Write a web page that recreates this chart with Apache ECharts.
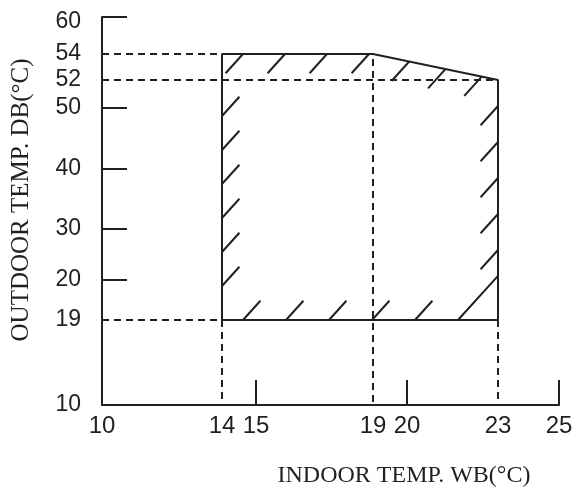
<!DOCTYPE html>
<html>
<head>
<meta charset="utf-8">
<script src="https://cdn.jsdelivr.net/npm/echarts@6/dist/echarts.min.js"></script>
<style>
  html, body { margin: 0; padding: 0; background: #fff; }
  #chart { width: 574px; height: 488px; }
</style>
</head>
<body>
<div id="chart"></div>
<script>
// printed tick values
const xTicks = [10, 14, 15, 19, 20, 23, 25]
const yTicks = [10, 19, 20, 30, 40, 50, 52, 54, 60]
// the scale is not linear: where each printed tick sits along its axis
const xScaleStops = [0, 120, 154, 271, 305, 396, 457]
const yScaleStops = [0, 85, 125, 176, 236, 297, 325, 351, 388]
// ticks drawn as solid marks
const xSolidTicks = [15, 20, 25]
const ySolidTicks = [20, 30, 40, 50, 60]
// operating range corners: indoor WB / outdoor DB
const rangeWB = [14, 14, 19, 23, 23]
const rangeDB = [19, 54, 54, 52, 19]
// corners that get dashed guides to both axes
const guideWB = [14, 19, 23]
const guideDB = [19, 54, 52]

const INK = '#231f20'
// hatch strokes per outline edge (px): first offset, gap, count, first one runs to the outline
const hatch = [
  { start: 34, gap: 34, count: 6 },
  { start: 21, gap: 42, count: 4 },
  { start: 37, gap: 37, count: 3 },
  { start: 26, gap: 36, count: 5 },
  { start: 40, gap: 43, count: 6, reach: true }
]

function mapScale(v, ticks, stops) {
  for (let i = 0; i < ticks.length - 1; i++) {
    if (v <= ticks[i + 1] || i === ticks.length - 2) {
      const t = (v - ticks[i]) / (ticks[i + 1] - ticks[i])
      return stops[i] + t * (stops[i + 1] - stops[i])
    }
  }
}
const toX = v => mapScale(v, xTicks, xScaleStops)
const toY = v => mapScale(v, yTicks, yScaleStops)

function labelOf(v, ticks, stops) {
  let best = 0
  stops.forEach((s, i) => { if (Math.abs(s - v) < Math.abs(stops[best] - v)) best = i })
  return String(ticks[best])
}

// distance along a ray until it meets the polygon outline
function rayToOutline(px, py, dx, dy, pts) {
  let best = Infinity
  for (let i = 0; i < pts.length; i++) {
    const a = pts[i], b = pts[(i + 1) % pts.length]
    const ex = b[0] - a[0], ey = b[1] - a[1]
    const den = dx * ey - dy * ex
    if (Math.abs(den) < 1e-9) continue
    const t = ((a[0] - px) * ey - (a[1] - py) * ex) / den
    const u = ((a[0] - px) * dy - (a[1] - py) * dx) / den
    if (t > 1 && u >= 0 && u <= 1) best = Math.min(best, t)
  }
  return best
}

const rangeLine = rangeWB.map((x, i) => [toX(x), toY(rangeDB[i])])
rangeLine.push(rangeLine[0])

const guideSeries = guideWB.map((wb, i) => ({
  type: 'line',
  silent: true,
  symbol: 'none',
  data: [[toX(xTicks[0]), toY(guideDB[i])], [toX(wb), toY(guideDB[i])], [toX(wb), toY(yTicks[0])]],
  lineStyle: { color: INK, width: 2, type: [7, 5] },
  z: 2
}))

const chart = echarts.init(document.getElementById('chart'))
chart.setOption({
  animation: false,
  grid: { left: 102, top: 17, width: 457, height: 388, outerBoundsMode: 'none' },
  xAxis: {
    type: 'value', min: 0, max: xScaleStops[xScaleStops.length - 1],
    axisLine: { show: true, lineStyle: { color: INK, width: 2 } },
    axisTick: { show: true, inside: true, length: 25, customValues: xSolidTicks.map(toX), lineStyle: { color: INK, width: 2 } },
    axisLabel: {
      customValues: xTicks.map(toX), margin: 9,
      formatter: v => labelOf(v, xTicks, xScaleStops),
      color: INK, fontSize: 24, fontFamily: 'Liberation Sans'
    },
    splitLine: { show: false }
  },
  yAxis: {
    type: 'value', min: 0, max: yScaleStops[yScaleStops.length - 1],
    axisLine: { show: true, lineStyle: { color: INK, width: 2 } },
    axisTick: { show: true, inside: true, length: 25, customValues: ySolidTicks.map(toY), lineStyle: { color: INK, width: 2 } },
    axisLabel: {
      customValues: yTicks.map(toY), margin: 21,
      formatter: v => {
        const s = labelOf(v, yTicks, yScaleStops)
        return s === String(yTicks[yTicks.length - 1]) ? '{top|' + s + '}' : s
      },
      rich: { top: { padding: [10, 0, 0, 0], fontSize: 23, color: INK, fontFamily: 'Liberation Sans' } },
      color: INK, fontSize: 23, fontFamily: 'Liberation Sans'
    },
    splitLine: { show: false }
  },
  graphic: [
    {
      type: 'text', x: 404, y: 476,
      style: { text: 'INDOOR TEMP. WB(°C)', fill: INK, font: '24px "Liberation Serif"', align: 'center', verticalAlign: 'middle' }
    },
    {
      type: 'text', x: 21, y: 200, rotation: Math.PI / 2,
      style: { text: 'OUTDOOR TEMP. DB(°C)', fill: INK, font: '25px "Liberation Serif"', align: 'center', verticalAlign: 'middle' }
    }
  ],
  series: [
    ...guideSeries,
    {
      type: 'line', silent: true, symbol: 'none', data: rangeLine,
      lineStyle: { color: INK, width: 2 }, z: 3
    },
    {
      // short hatch strokes along the inside of the range outline
      type: 'custom', coordinateSystem: 'cartesian2d', silent: true, clip: false,
      data: [[0, 0]], z: 3,
      renderItem: (params, api) => {
        const pts = rangeWB.map((x, i) => api.coord([toX(x), toY(rangeDB[i])]))
        const d = [0.67, -0.74], L = 26
        const children = []
        pts.forEach((a, i) => {
          const b = pts[(i + 1) % pts.length]
          const ex = b[0] - a[0], ey = b[1] - a[1]
          const len = Math.hypot(ex, ey)
          const s = (-ey * d[0] + ex * d[1]) > 0 ? 1 : -1
          const h = hatch[i]
          for (let k = 0; k < h.count; k++) {
            const off = h.start + k * h.gap
            const qx = a[0] + ex * off / len, qy = a[1] + ey * off / len
            let l = L
            if (h.reach && k === 0) l = Math.min(rayToOutline(qx, qy, s * d[0], s * d[1], pts), 80)
            children.push({
              type: 'line',
              shape: { x1: qx, y1: qy, x2: qx + s * l * d[0], y2: qy + s * l * d[1] },
              style: { stroke: INK, lineWidth: 2 }
            })
          }
        })
        return { type: 'group', children }
      }
    }
  ]
})
</script>
</body>
</html>
